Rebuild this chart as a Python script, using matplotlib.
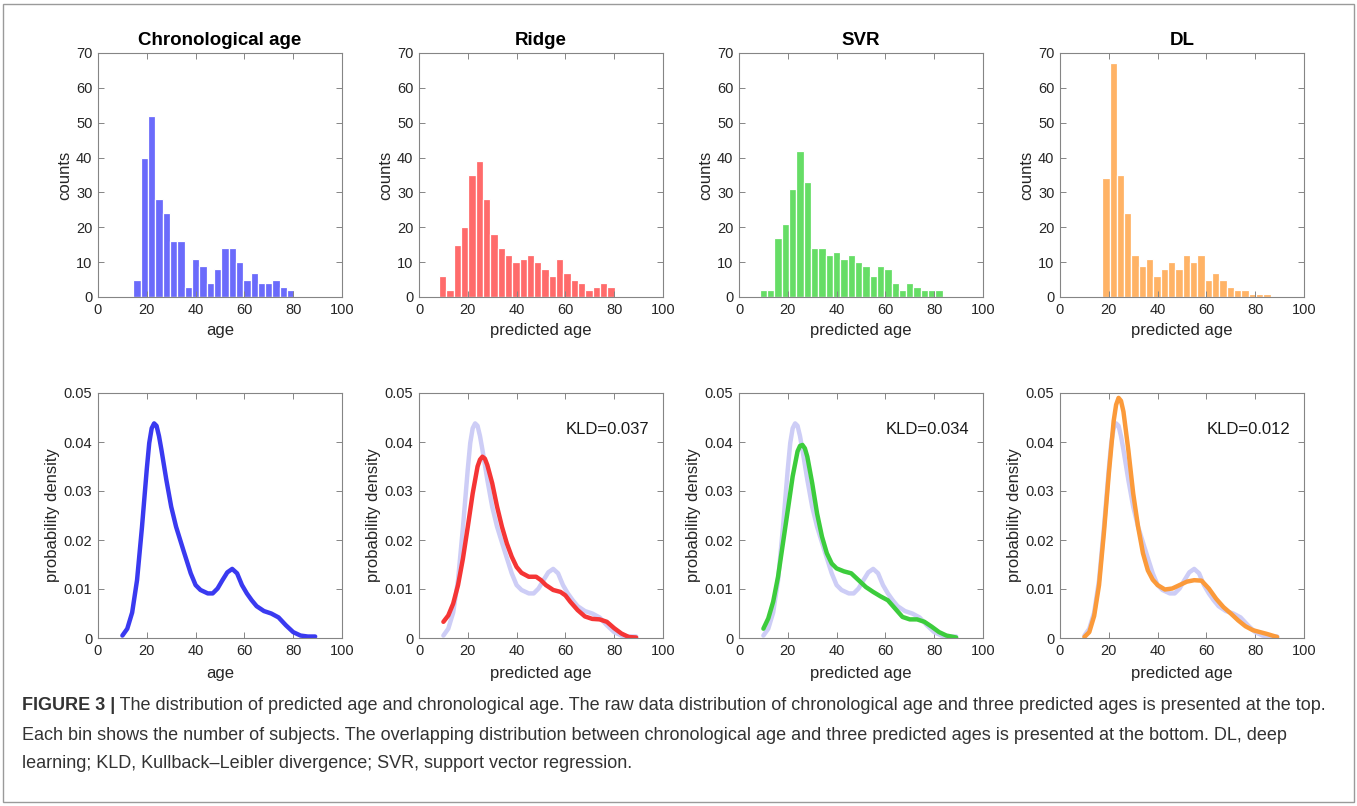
import matplotlib
matplotlib.use("Agg")
import matplotlib.pyplot as plt
from matplotlib.patches import Rectangle
import numpy as np

plt.rcParams['font.family'] = ['Liberation Sans', 'DejaVu Sans']

# ---- histogram data (bin width 3) ----
bin_w = 3
chrono_start = 16
chrono_counts = [5, 40, 52, 28, 24, 16, 16, 3, 11, 9, 4, 8, 14, 14, 10, 5, 7, 4, 4, 5, 3, 2]
ridge_start = 9.7
ridge_counts = [6, 2, 15, 20, 35, 39, 28, 18, 14, 12, 10, 11, 12, 10, 8, 6, 11, 7, 5, 4, 2, 3, 4, 3]
svr_start = 10
svr_counts = [2, 2, 17, 21, 31, 42, 33, 14, 14, 12, 13, 11, 12, 10, 9, 6, 9, 8, 4, 2, 4, 3, 2, 2, 2]
dl_start = 18.8
dl_counts = [34, 67, 35, 24, 12, 9, 11, 6, 8, 10, 8, 12, 10, 12, 5, 7, 5, 3, 2, 2, 1, 1, 1]

# ---- density curves ----
chrono_x = [10, 12, 14, 16, 18, 20, 21, 22, 23, 24, 25, 26, 28, 30, 32, 35, 38, 40, 42, 45, 47,
            49, 51, 53, 55, 57, 59, 61, 63, 65, 68, 71, 74, 77, 80, 83, 86, 89]
chrono_y = [0.0005, 0.0019, 0.0052, 0.0118, 0.0225, 0.0345, 0.0398, 0.0428, 0.0438, 0.0433,
            0.0412, 0.0384, 0.0323, 0.0268, 0.0227, 0.0179, 0.0132, 0.0108, 0.0098, 0.0091,
            0.0091, 0.0101, 0.0118, 0.0134, 0.0141, 0.0132, 0.0108, 0.0091, 0.0077, 0.0065,
            0.0055, 0.005, 0.0042, 0.0026, 0.0012, 0.0005, 0.0003, 0.0003]

ridge_x = [10, 12, 14, 16, 18, 20, 22, 24, 25, 26, 27, 28, 30, 32, 34, 36, 38, 40, 42, 45, 48,
           50, 52, 55, 58, 60, 62, 65, 68, 71, 74, 77, 80, 83, 86, 89]
ridge_y = [0.0033, 0.0046, 0.007, 0.0108, 0.0162, 0.0227, 0.0295, 0.035, 0.0364, 0.037, 0.0366,
           0.0353, 0.0316, 0.0268, 0.0227, 0.0193, 0.0166, 0.0145, 0.0133, 0.0125, 0.0125,
           0.0118, 0.0108, 0.0098, 0.0094, 0.0087, 0.0074, 0.0057, 0.0044, 0.0039, 0.0038,
           0.0033, 0.002, 0.0009, 0.0002, 0.0001]

svr_x = [10, 12, 14, 16, 18, 20, 22, 24, 25, 26, 27, 28, 30, 32, 34, 36, 38, 40, 43, 46, 49, 52,
         55, 58, 61, 64, 67, 70, 73, 76, 79, 82, 85, 89]
svr_y = [0.0019, 0.004, 0.0074, 0.0125, 0.0193, 0.0261, 0.033, 0.0381, 0.0392, 0.0394, 0.0387,
         0.037, 0.0316, 0.0254, 0.0207, 0.0173, 0.0152, 0.0142, 0.0136, 0.0132, 0.0118, 0.0104,
         0.0094, 0.0085, 0.0077, 0.006, 0.0043, 0.0038, 0.0038, 0.0033, 0.0023, 0.0012, 0.0005,
         0.0001]

dl_x = [10, 12, 14, 16, 18, 20, 22, 23, 24, 25, 26, 28, 30, 32, 34, 36, 38, 40, 43, 46, 49, 52,
        55, 58, 61, 64, 67, 70, 73, 76, 79, 82, 85, 89]
dl_y = [0.0002, 0.0012, 0.0045, 0.0108, 0.0215, 0.0335, 0.0443, 0.0476, 0.049, 0.0484, 0.0462,
        0.0384, 0.0295, 0.0227, 0.0173, 0.0138, 0.0119, 0.0108, 0.0099, 0.0101, 0.0108, 0.0115,
        0.0118, 0.0117, 0.0101, 0.008, 0.0063, 0.005, 0.0036, 0.0024, 0.0016, 0.0012, 0.0008,
        0.0002]

titles = ["Chronological age", "Ridge", "SVR", "DL"]
xlabels = ["age", "predicted age", "predicted age", "predicted age"]
kld_labels = [None, "KLD=0.037", "KLD=0.034", "KLD=0.012"]

bar_colors = ["#6b6bfb", "#ff6b6b", "#66dd66", "#ffb366"]
line_colors = ["#3a3af0", "#f53535", "#3ccc3c", "#fb9a3a"]
pale = "#cdcdf6"

hists = [(chrono_start, chrono_counts), (ridge_start, ridge_counts),
         (svr_start, svr_counts), (dl_start, dl_counts)]
curves = [(chrono_x, chrono_y), (ridge_x, ridge_y), (svr_x, svr_y), (dl_x, dl_y)]

W, H = 1357, 806
fig = plt.figure(figsize=(W / 100, H / 100), dpi=100)

lefts = [98, 419, 739, 1060]
aw = 244


def style(ax):
    for s in ax.spines.values():
        s.set_color("#858585")
        s.set_linewidth(0.8)
    ax.tick_params(direction="in", top=True, right=True, length=4, width=0.7,
                   color="#858585", labelsize=10.5, labelcolor="#262626", pad=4)


for i in range(4):
    # top row: histograms
    ax = fig.add_axes([lefts[i] / W, 1 - 297 / H, aw / W, 244 / H])
    start, counts = hists[i]
    centers = start + bin_w * np.arange(len(counts))
    ax.bar(centers, counts, width=bin_w, color=bar_colors[i], edgecolor="white", linewidth=0.9)
    ax.set_xlim(0, 100)
    ax.set_ylim(0, 70)
    ax.set_xticks(range(0, 101, 20))
    ax.set_yticks(range(0, 71, 10))
    ax.set_title(titles[i], fontsize=13.5, fontweight="bold", pad=6)
    ax.set_xlabel(xlabels[i], fontsize=12, color="#262626", labelpad=5)
    ax.set_ylabel("counts", fontsize=12, color="#262626", labelpad=3)
    style(ax)

    # bottom row: densities
    ax2 = fig.add_axes([lefts[i] / W, 1 - 638 / H, aw / W, 245 / H])
    if i > 0:
        ax2.plot(chrono_x, chrono_y, color=pale, lw=3.2, solid_capstyle="round",
                 solid_joinstyle="round")
    cx, cy = curves[i]
    ax2.plot(cx, cy, color=line_colors[i], lw=3.2, solid_capstyle="round",
             solid_joinstyle="round")
    ax2.set_xlim(0, 100)
    ax2.set_ylim(0, 0.05)
    ax2.set_xticks(range(0, 101, 20))
    ax2.set_yticks([0, 0.01, 0.02, 0.03, 0.04, 0.05])
    ax2.set_yticklabels(["0", "0.01", "0.02", "0.03", "0.04", "0.05"])
    ax2.set_xlabel(xlabels[i], fontsize=12, color="#262626", labelpad=6)
    ax2.set_ylabel("probability density", fontsize=12, color="#262626", labelpad=3)
    if kld_labels[i]:
        ax2.text(0.6, 0.853, kld_labels[i], transform=ax2.transAxes, fontsize=12,
                 va="center", ha="left", color="#1a1a1a")
    style(ax2)

# caption
cap_color = "#333333"
cap_size = 13
t0 = fig.text(22 / W, 1 - 706 / H, "FIGURE 3 |", fontsize=cap_size, fontweight="bold",
              color=cap_color, va="center", ha="left")
fig.canvas.draw()
plt.annotate(" The distribution of predicted age and chronological age. The raw data distribution "
             "of chronological age and three predicted ages is presented at the top.",
             xy=(1, 0.5), xycoords=t0, va="center", ha="left", fontsize=cap_size, color=cap_color)
fig.text(22 / W, 1 - 735 / H,
         "Each bin shows the number of subjects. The overlapping distribution between chronological "
         "age and three predicted ages is presented at the bottom. DL, deep",
         fontsize=cap_size, color=cap_color, va="center", ha="left")
fig.text(22 / W, 1 - 763 / H,
         "learning; KLD, Kullback\u2013Leibler divergence; SVR, support vector regression.",
         fontsize=cap_size, color=cap_color, va="center", ha="left")

fig.add_artist(Rectangle((3 / W, 4 / H), 1 - 6 / W, 1 - 8 / H, transform=fig.transFigure,
                         fill=False, edgecolor="#9a9a9a", lw=1))

fig.savefig("out.png", dpi=100)
